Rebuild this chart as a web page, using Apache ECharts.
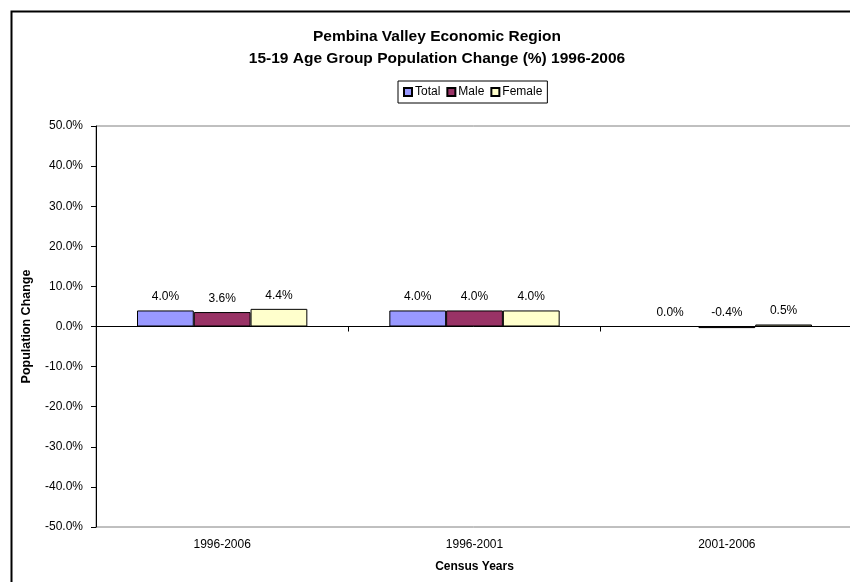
<!DOCTYPE html>
<html>
<head>
<meta charset="utf-8">
<script src="https://cdn.jsdelivr.net/npm/echarts@6/dist/echarts.min.js"></script>
<style>
html,body{margin:0;padding:0;background:#fff;}
#chart{width:850px;height:582px;}
</style>
</head>
<body>
<div id="chart"></div>
<script>
const categories = ['1996-2006', '1996-2001', '2001-2006'];
const seriesNames = ['Total', 'Male', 'Female'];
const totalValues = [4.0, 4.0, 0.0];
const maleValues = [3.6, 4.0, -0.4];
const femaleValues = [4.4, 4.0, 0.5];
const yTicks = [-50, -40, -30, -20, -10, 0, 10, 20, 30, 40, 50];

const FONT = '"Liberation Sans", Arial, sans-serif';
const colors = ['#9999FF', '#993366', '#FFFFCC'];
const values = [totalValues, maleValues, femaleValues];

const chart = echarts.init(document.getElementById('chart'), null, {renderer: 'canvas'});

const series = seriesNames.map((n, i) => ({
  name: n,
  type: 'bar',
  xAxisIndex: 0,
  data: values[i],
  barGap: '0%',
  barCategoryGap: '32.5%',
  itemStyle: {color: colors[i], borderColor: '#000', borderWidth: 1},
  label: {
    show: true,
    position: 'top',
    distance: 7.5,
    fontFamily: FONT,
    fontSize: 12,
    color: '#000',
    formatter: p => p.value.toFixed(1) + '%'
  }
}));

chart.setOption({
  animation: false,
  backgroundColor: '#fff',
  textStyle: {fontFamily: FONT},
  graphic: [{
    type: 'rect',
    left: 9, top: 9,
    shape: {x: 0, y: 0, width: 900, height: 700},
    style: {fill: 'none', stroke: '#000', lineWidth: 2},
    z: 100
  }],
  title: {
    text: 'Pembina Valley Economic Region\n15-19 Age Group Population Change (%) 1996-2006',
    left: 432,
    top: 21,
    textAlign: 'center',
    textStyle: {fontFamily: FONT, fontSize: 15.5, fontWeight: 'bold', color: '#000', lineHeight: 22}
  },
  legend: {
    data: seriesNames,
    left: 398,
    top: 81,
    padding: [5, 5, 5, 5],
    borderColor: '#000',
    borderWidth: 1,
    itemWidth: 8,
    itemHeight: 8,
    itemGap: 6,
    icon: 'rect',
    textStyle: {fontFamily: FONT, fontSize: 12, color: '#000', padding: [0, 0, 0, -2]}
  },
  grid: {
    left: 96, top: 126, width: 757, bottom: 55,
    outerBoundsMode: 'none',
    show: true,
    borderColor: '#808080',
    borderWidth: 1,
    containLabel: false
  },
  xAxis: [{
    type: 'category',
    data: categories,
    position: 'bottom',
    axisLine: {onZero: true, lineStyle: {color: '#000', width: 1}},
    axisTick: {show: true, length: 5, lineStyle: {color: '#000'}},
    axisLabel: {show: false},
    splitLine: {show: false}
  }, {
    type: 'category',
    data: categories,
    position: 'bottom',
    axisLine: {show: false, onZero: false},
    axisTick: {show: false},
    axisLabel: {show: true, margin: 12, fontFamily: FONT, fontSize: 12, color: '#000'},
    name: 'Census Years',
    nameLocation: 'middle',
    nameGap: 34,
    nameTextStyle: {fontFamily: FONT, fontSize: 12, fontWeight: 'bold', color: '#000'}
  }],
  yAxis: {
    type: 'value',
    min: yTicks[0],
    max: yTicks[yTicks.length - 1],
    interval: 10,
    name: 'Population Change',
    nameLocation: 'middle',
    nameRotate: 90,
    nameGap: 63,
    nameTextStyle: {fontFamily: FONT, fontSize: 12.5, fontWeight: 'bold', color: '#000'},
    axisLine: {show: true, lineStyle: {color: '#000'}},
    axisTick: {show: true, length: 5, lineStyle: {color: '#000'}},
    axisLabel: {margin: 13, fontFamily: FONT, fontSize: 12, color: '#000', formatter: v => v.toFixed(1) + '%'},
    splitLine: {show: false}
  },
  series: series
});
</script>
</body>
</html>
